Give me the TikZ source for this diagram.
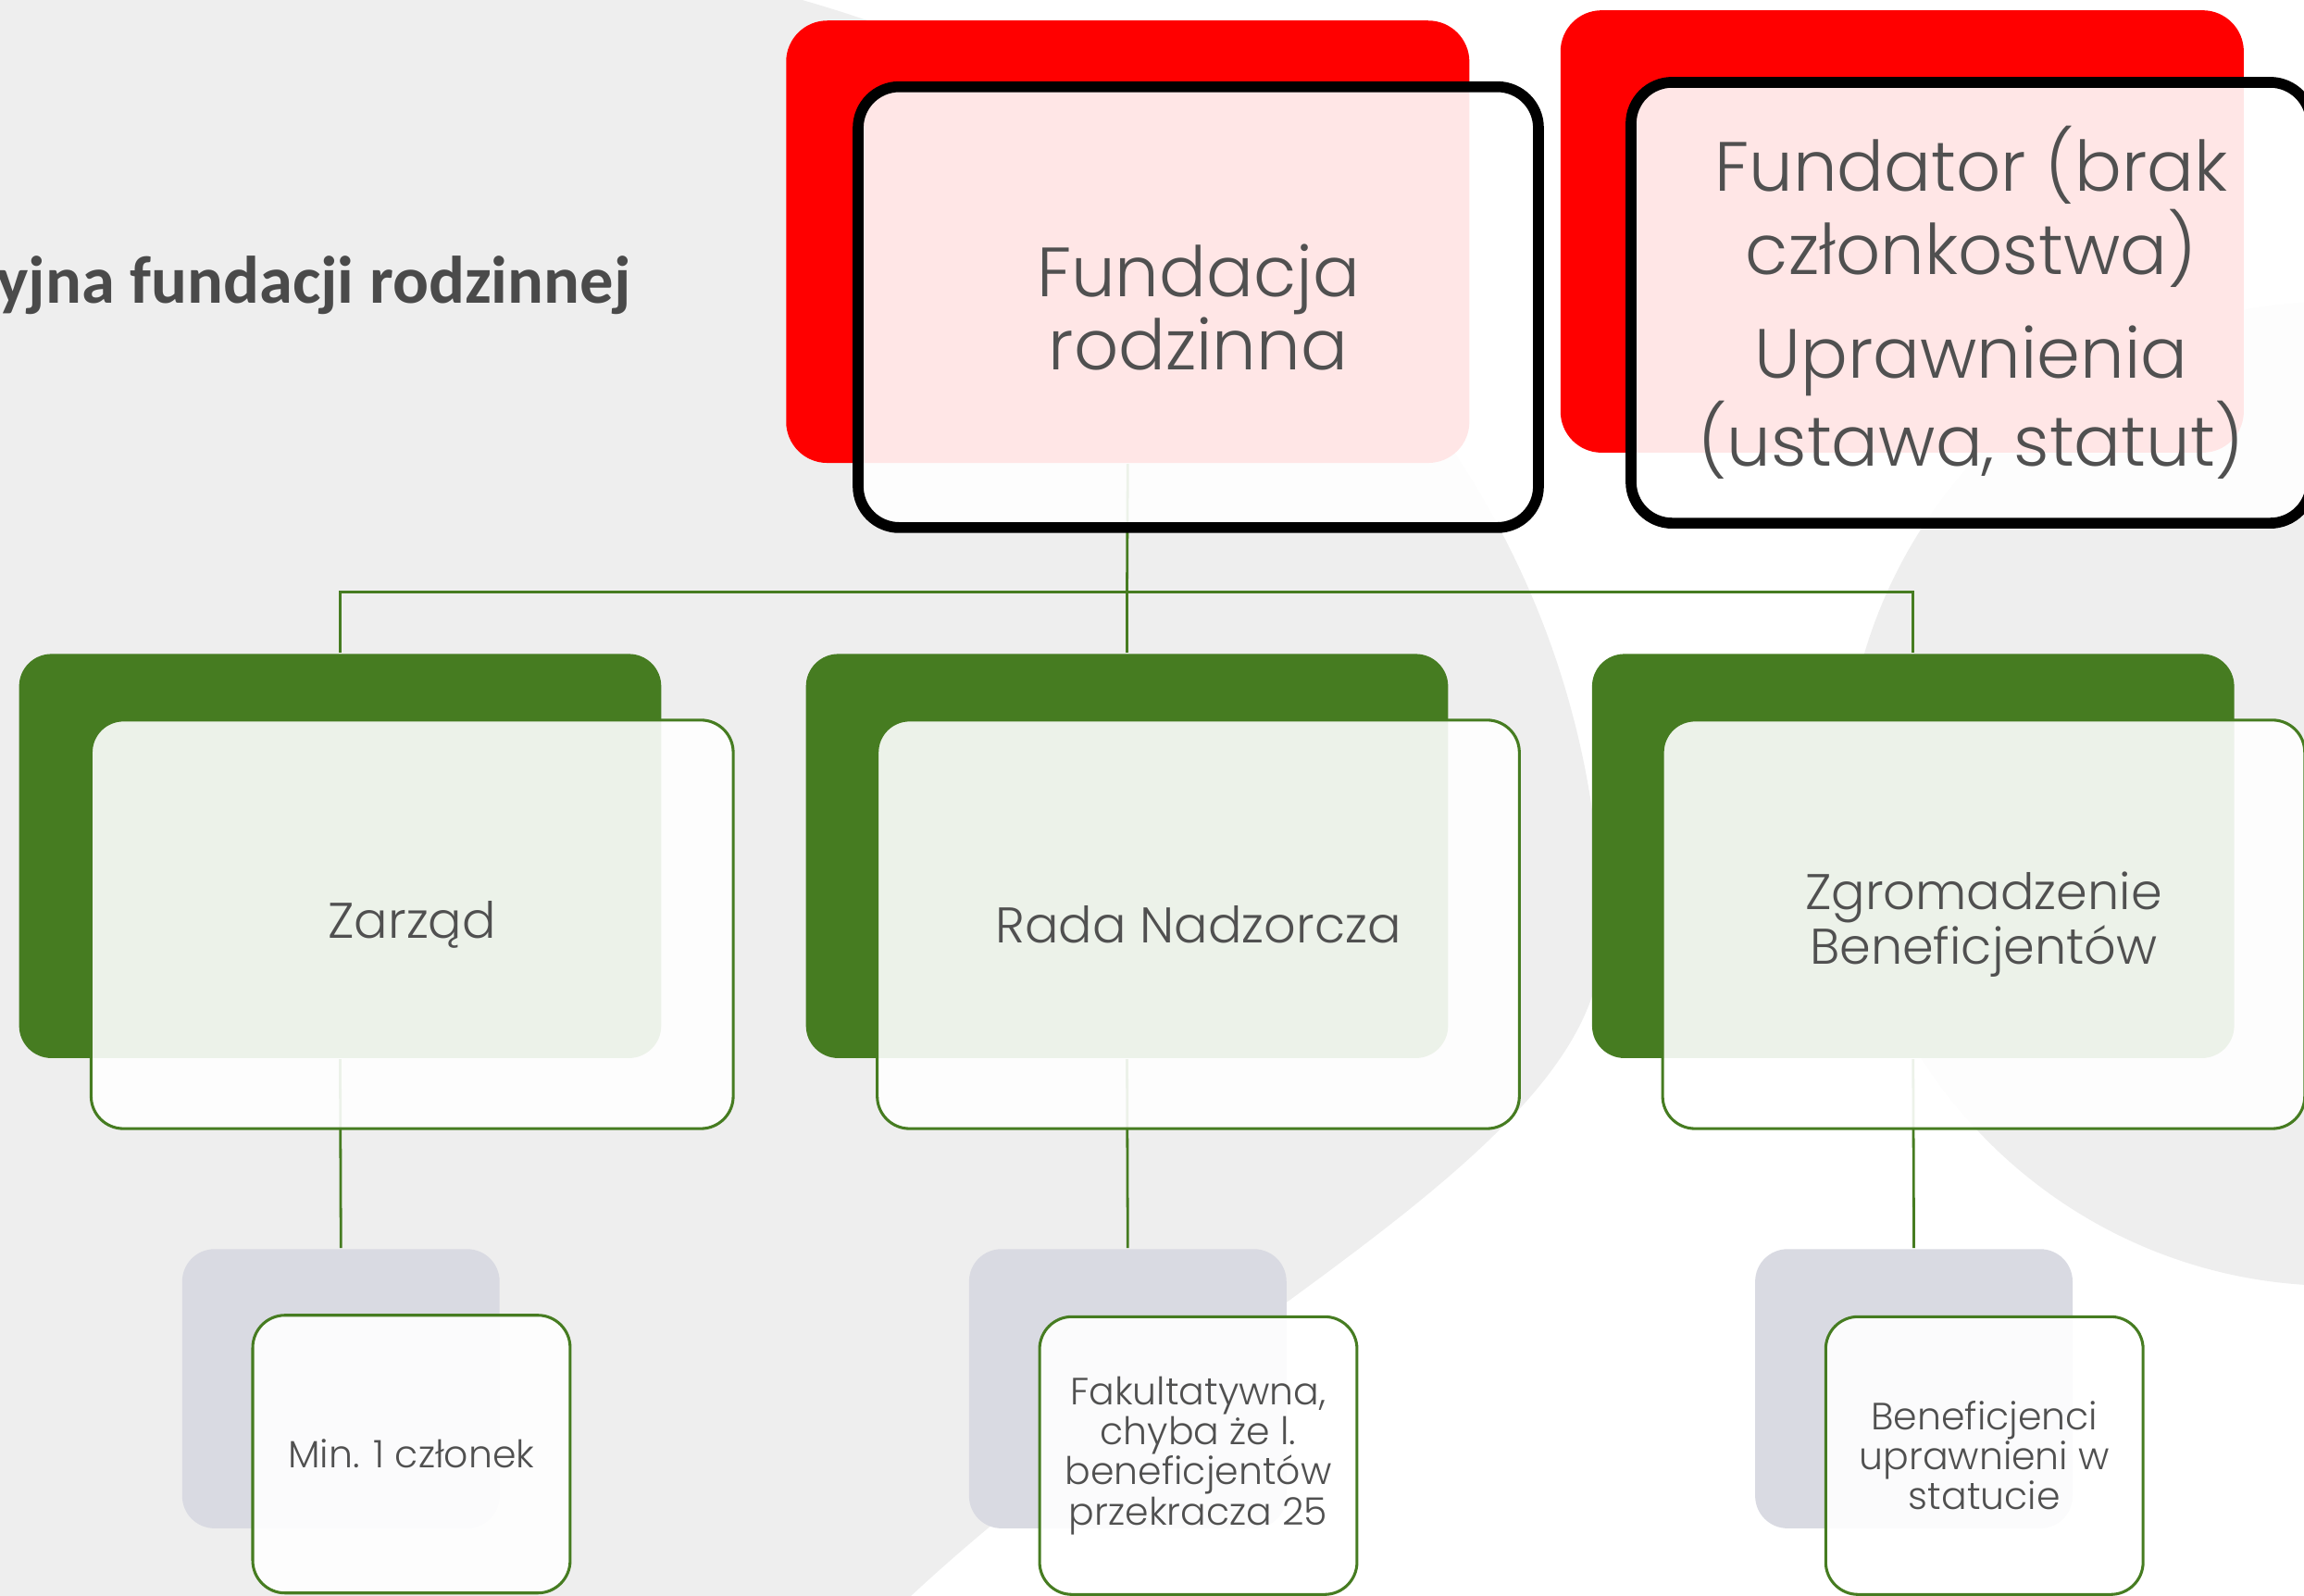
\documentclass[tikz,border=0pt]{standalone}
\usepackage{xcolor}
\usepackage{tikz}
\usepackage{fontspec}
\setmainfont{Poppins}[UprightFont=* Light]
\newfontfamily\titlefont{Carlito}
\usetikzlibrary{positioning,calc}
\definecolor{fundred}{HTML}{FF0000}
\definecolor{boardgreen}{HTML}{467C21}
\definecolor{notegray}{HTML}{D9DAE2}
\definecolor{textgray}{HTML}{505050}
\definecolor{titlegray}{HTML}{4A4A4A}
\definecolor{marble}{HTML}{EEEEEE}

\begin{document}
\begin{tikzpicture}[x=0.1mm, y=-0.1mm,
    box/.style={rectangle, rounded corners=2.2mm, inner sep=0pt},
    redback/.style={box, rounded corners=2.8mm, fill=fundred, minimum width=46.5mm, minimum height=30.1mm},
    redfront/.style={box, rounded corners=2.8mm, draw=black, line width=2.1pt, fill=white, fill opacity=0.9, text opacity=1,
        minimum width=46.3mm, minimum height=30mm, align=center, text=textgray, font=\fontsize{13.5}{14.1}\selectfont},
    greenback/.style={box, fill=boardgreen, minimum width=43.7mm, minimum height=27.5mm},
    greenfront/.style={box, draw=boardgreen, line width=0.55pt, fill=white, fill opacity=0.9, text opacity=1,
        minimum width=43.7mm, minimum height=27.8mm, align=center, text=textgray, font=\fontsize{9.7}{10.5}\selectfont},
    grayback/.style={box, fill=notegray, minimum width=21.6mm, minimum height=19mm},
    grayfront/.style={greenfront, minimum width=21.6mm, minimum height=18.9mm, font=\fontsize{7.35}{7.75}\selectfont},
    link/.style={draw=boardgreen, line width=0.5pt}]

    % Marble background
    \useasboundingbox (0,0) rectangle (1568,1086);
    \clip (0,0) rectangle (1568,1086);
    \fill[marble] (0,0) -- (546,0) .. controls (860,90) and (1090,330) .. (1090,640)
        .. controls (1090,780) and (820,900) .. (620,1086) -- (0,1086) -- cycle;
    \fill[marble] (1590,540) circle (33.5mm);

    % Title
    \node[anchor=base east, inner sep=0pt, text=titlegray, font=\titlefont\bfseries\fontsize{13}{15}\selectfont] (title) at (430,206) {yjna fundacji rodzinnej};

    % Top level
    \node[redback] (fundback) at (767.5,164.5) {};
    \node[redback] (founderback) at (1294.5,157.5) {};
    \coordinate (hub) at (767,403);
    \draw[link] (fundback.south) -- (hub);

    % Organs and their notes
    \foreach \col/\x in {zarzad/231.5, rada/767, zgrom/1302} {
        \node[greenback] (\col back) at (\x,582.5) {};
        \node[grayback] (\col note back) at (\x+0.5,945) {};
        \draw[link] (hub) -| (\col back.north);
        \draw[link] (\col back.south) -- (\col note back.north);
    }

    \node[redfront] (fund) at (815.5,209) {Fundacja\\rodzinna};
    \node[redfront] (founder) at (1341.5,206) {Fundator (brak\\członkostwa)\\[6pt]Uprawnienia\\(ustawa, statut)};

    \node[greenfront] (zarzad) at (280.5,629) {Zarząd};
    \node[greenfront] (rada) at (815.5,629) {Rada Nadzorcza};
    \node[greenfront] (zgrom) at (1350,629) {Zgromadzenie\\Beneficjentów};

    \node[grayfront] (zarzad note) at (280,989.5) {Min. 1 członek};
    \node[grayfront] (rada note) at (815.5,990.5) {Fakultatywna,\\chyba że l.\\beneficjentów\\przekracza 25};
    \node[grayfront] (zgrom note) at (1350.5,990.5) {Beneficjenci\\uprawnieni w\\statucie};
\end{tikzpicture}
\end{document}
